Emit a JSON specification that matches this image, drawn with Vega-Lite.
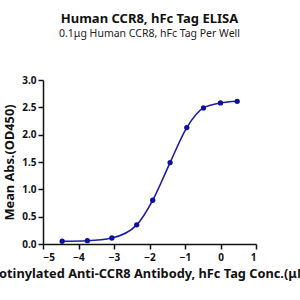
{
  "$schema": "https://vega.github.io/schema/vega-lite/v6.json",
  "autosize": "none",
  "width": 213,
  "height": 164,
  "padding": {"left": 43, "top": 80, "right": 44, "bottom": 56},
  "background": "white",
  "title": {
    "text": "Human CCR8, hFc Tag ELISA",
    "subtitle": "0.1μg Human CCR8, hFc Tag Per Well",
    "font": "Noto Sans",
    "fontSize": 13,
    "fontWeight": "bold",
    "subtitleFont": "Noto Sans",
    "subtitleFontSize": 10.5,
    "subtitleColor": "#222",
    "subtitlePadding": 3,
    "color": "#111",
    "anchor": "middle",
    "offset": 36
  },
  "data": {
    "values": [
      {"x": -4.46, "y": 0.05},
      {"x": -3.75, "y": 0.06},
      {"x": -3.06, "y": 0.11},
      {"x": -2.36, "y": 0.35},
      {"x": -1.91, "y": 0.80},
      {"x": -1.42, "y": 1.49},
      {"x": -0.95, "y": 2.13},
      {"x": -0.48, "y": 2.49},
      {"x": 0.0, "y": 2.58},
      {"x": 0.47, "y": 2.61}
    ]
  },
  "encoding": {
    "x": {
      "field": "x", "type": "quantitative",
      "scale": {"domain": [-5, 1], "nice": false},
      "axis": {
        "title": "Biotinylated Anti-CCR8 Antibody, hFc Tag Conc.(μM)",
        "values": [-5, -4, -3, -2, -1, 0, 1],
        "grid": false
      }
    },
    "y": {
      "field": "y", "type": "quantitative",
      "scale": {"domain": [0, 3], "nice": false},
      "axis": {
        "title": "Mean Abs.(OD450)",
        "values": [0, 0.5, 1, 1.5, 2, 2.5, 3],
        "format": ".1f",
        "grid": false
      }
    }
  },
  "layer": [
    {"mark": {"type": "line", "interpolate": "monotone", "color": "#1c1ca8", "strokeWidth": 1.6}},
    {"mark": {"type": "point", "filled": true, "size": 28, "color": "#1010a0", "opacity": 1}}
  ],
  "config": {
    "view": {"stroke": null},
    "axis": {
      "domainColor": "#111",
      "domainWidth": 1.5,
      "tickColor": "#111",
      "tickWidth": 1.5,
      "tickSize": 5,
      "labelFont": "Noto Sans",
      "labelFontWeight": "bold",
      "labelFontSize": 10,
      "labelColor": "#111",
      "titleFont": "Noto Sans",
      "titleFontWeight": "bold",
      "titleFontSize": 12.8,
      "titleColor": "#111"
    },
    "axisX": {"titlePadding": 5, "labelPadding": 3},
    "axisY": {"titlePadding": 5, "labelPadding": 2}
  }
}
